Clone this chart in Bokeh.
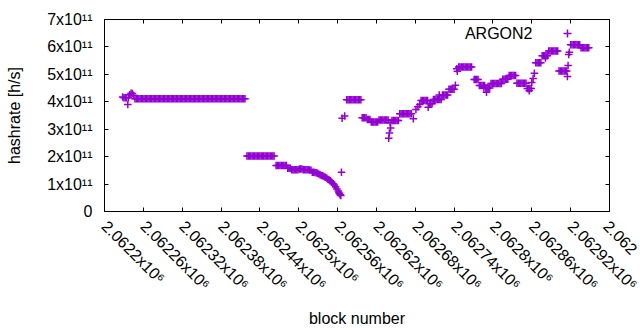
import math
import numpy as np
from bokeh.plotting import figure
from bokeh.models import (Range1d, FixedTicker, LinearAxis, Label, Legend,
                          LegendItem, CustomJSTickFormatter)
from bokeh.core.properties import value
from bokeh.embed import file_html
from bokeh.resources import INLINE

# ---------------- data (hashrate in units of 1e11 h/s) ----------------
blocks = [
    2062228, 2062230, 2062232, 2062234, 2062236, 2062237, 2062239, 2062241, 2062243, 2062245,
    2062247, 2062249, 2062251, 2062253, 2062255, 2062257, 2062259, 2062261, 2062263, 2062265,
    2062267, 2062269, 2062271, 2062273, 2062275, 2062277, 2062279, 2062281, 2062283, 2062285,
    2062287, 2062289, 2062291, 2062293, 2062295, 2062297, 2062299, 2062301, 2062303, 2062305,
    2062307, 2062309, 2062311, 2062313, 2062315, 2062317, 2062319, 2062321, 2062323, 2062325,
    2062327, 2062329, 2062331, 2062333, 2062335, 2062337, 2062339, 2062341, 2062343, 2062345,
    2062347, 2062349, 2062351, 2062353, 2062355, 2062357, 2062359, 2062361, 2062363, 2062365,
    2062367, 2062369, 2062371, 2062373, 2062375, 2062377, 2062379, 2062381, 2062383, 2062385,
    2062387, 2062389, 2062391, 2062393, 2062395, 2062397, 2062399, 2062401, 2062403, 2062405,
    2062407, 2062409, 2062411, 2062413, 2062415, 2062417,
    2062420, 2062422, 2062424, 2062426, 2062428, 2062430, 2062432, 2062434, 2062436, 2062438,
    2062440, 2062442, 2062444, 2062446, 2062448, 2062450, 2062452, 2062454, 2062456, 2062458,
    2062460, 2062462,
    2062465, 2062467, 2062469, 2062471, 2062473, 2062475, 2062477, 2062479, 2062481,
    2062483, 2062485, 2062487,
    2062489, 2062491, 2062493, 2062495, 2062497, 2062499, 2062501, 2062503, 2062505, 2062507,
    2062509, 2062511, 2062513, 2062515, 2062517, 2062519,
    2062521, 2062523, 2062525, 2062527, 2062529, 2062531, 2062533, 2062535, 2062537, 2062539,
    2062541, 2062543, 2062545, 2062547, 2062549, 2062551, 2062553, 2062555, 2062557, 2062559,
    2062561, 2062562, 2062563, 2062564, 2062565, 2062566,
    2062567, 2062571,
    2062574, 2062576, 2062578, 2062580, 2062582, 2062584, 2062586, 2062588, 2062590, 2062592,
    2062594, 2062596,
    2062598, 2062600, 2062602, 2062604, 2062606, 2062608, 2062610,
    2062612, 2062614, 2062616, 2062618, 2062620, 2062622,
    2062624, 2062626, 2062628, 2062630, 2062632, 2062634, 2062636, 2062638,
    2062639, 2062640, 2062641, 2062642,
    2062644, 2062646, 2062648, 2062650, 2062652, 2062654,
    2062656, 2062658, 2062660, 2062662, 2062664, 2062666, 2062668, 2062670, 2062672, 2062674,
    2062677, 2062681, 2062684, 2062687,
    2062689, 2062691, 2062693, 2062695, 2062697, 2062699,
    2062700, 2062702, 2062704, 2062706,
    2062708, 2062710, 2062712, 2062714, 2062716, 2062718, 2062720, 2062717,
    2062722, 2062724, 2062726, 2062728, 2062730,
    2062732, 2062734, 2062736, 2062738, 2062740, 2062742, 2062744, 2062745,
    2062747, 2062749, 2062751, 2062753, 2062755, 2062757, 2062759, 2062761, 2062763, 2062765,
    2062767,
    2062771, 2062773, 2062775, 2062777,
    2062779, 2062781, 2062783, 2062785, 2062787, 2062786, 2062790,
    2062789, 2062791, 2062793, 2062795,
    2062797, 2062799, 2062801, 2062803, 2062805, 2062807, 2062809, 2062811, 2062813,
    2062815, 2062817, 2062819, 2062821, 2062823,
    2062825, 2062827, 2062829, 2062831, 2062833, 2062835,
    2062837, 2062839, 2062841, 2062843, 2062845, 2062847, 2062849, 2062851,
    2062853, 2062855, 2062857, 2062859, 2062856,
    2062860, 2062862, 2062864,
    2062866, 2062868, 2062870, 2062872, 2062874,
    2062876, 2062878, 2062880, 2062882, 2062884, 2062881,
    2062886, 2062888, 2062890, 2062892, 2062894, 2062896, 2062898, 2062900,
    2062902, 2062904, 2062906, 2062908, 2062910, 2062912, 2062914,
    2062915, 2062916, 2062917, 2062918,
    2062920, 2062922, 2062924, 2062926, 2062928, 2062930, 2062932, 2062934,
    2062936, 2062938, 2062940, 2062942, 2062944, 2062946, 2062948,
]

hashrate_e11 = [
    4.17, 4.15, 4.15, 4.15, 3.90, 4.15, 4.26, 4.31, 4.30, 4.24,
    4.11, 4.11, 4.11, 4.11, 4.11, 4.11, 4.11, 4.11, 4.11, 4.11,
    4.11, 4.11, 4.11, 4.11, 4.11, 4.11, 4.11, 4.11, 4.11, 4.11,
    4.11, 4.11, 4.11, 4.11, 4.11, 4.11, 4.11, 4.11, 4.11, 4.11,
    4.11, 4.11, 4.11, 4.11, 4.11, 4.11, 4.11, 4.11, 4.11, 4.11,
    4.11, 4.11, 4.11, 4.11, 4.11, 4.11, 4.11, 4.11, 4.11, 4.11,
    4.11, 4.11, 4.11, 4.11, 4.11, 4.11, 4.11, 4.11, 4.11, 4.11,
    4.11, 4.11, 4.11, 4.11, 4.11, 4.11, 4.11, 4.11, 4.11, 4.11,
    4.11, 4.11, 4.11, 4.11, 4.11, 4.11, 4.11, 4.11, 4.11, 4.11,
    4.11, 4.11, 4.11, 4.11, 4.11, 4.11,
    2.02, 2.02, 2.02, 2.02, 2.02, 2.02, 2.02, 2.02, 2.02, 2.02,
    2.02, 2.02, 2.02, 2.02, 2.02, 2.02, 2.02, 2.02, 2.02, 2.02,
    2.02, 2.02,
    1.68, 1.68, 1.68, 1.68, 1.68, 1.68, 1.68, 1.68, 1.68,
    1.58, 1.58, 1.58,
    1.52, 1.52, 1.52, 1.52, 1.52, 1.52, 1.55, 1.55, 1.55, 1.52,
    1.52, 1.52, 1.52, 1.52, 1.51, 1.50,
    1.43, 1.43, 1.42, 1.41, 1.39, 1.37, 1.34, 1.31, 1.30, 1.28,
    1.25, 1.22, 1.18, 1.15, 1.12, 1.07, 1.01, 0.97, 0.90, 0.82,
    0.75, 0.69, 0.65, 0.61, 0.58, 1.43,
    3.40, 3.48,
    4.07, 4.07, 4.07, 4.07, 4.07, 4.07, 4.07, 4.07, 4.07, 4.07,
    4.07, 4.07,
    3.42, 3.42, 3.42, 3.42, 3.35, 3.35, 3.35,
    3.26, 3.26, 3.26, 3.26, 3.26, 3.26,
    3.34, 3.34, 3.34, 3.34, 3.34, 3.34, 3.34, 3.34,
    2.67, 2.86, 3.24, 3.04,
    3.32, 3.32, 3.32, 3.32, 3.32, 3.32,
    3.56, 3.56, 3.56, 3.56, 3.56, 3.56, 3.56, 3.56, 3.56, 3.56,
    3.38, 3.72, 3.82, 3.90,
    4.05, 4.05, 4.05, 4.05, 4.05, 4.05,
    3.80, 3.93, 3.93, 3.93,
    4.08, 4.08, 4.08, 4.08, 4.08, 4.08, 4.08, 4.25,
    4.25, 4.25, 4.25, 4.25, 4.25,
    4.46, 4.46, 4.46, 4.46, 4.46, 4.60, 5.20, 5.11,
    5.27, 5.27, 5.27, 5.27, 5.27, 5.27, 5.27, 5.27, 5.27, 5.27,
    5.27,
    4.81, 4.81, 4.81, 4.81,
    4.59, 4.59, 4.59, 4.59, 4.59, 4.50, 4.35,
    4.50, 4.50, 4.50, 4.50,
    4.67, 4.67, 4.67, 4.67, 4.67, 4.67, 4.67, 4.67, 4.67,
    4.82, 4.82, 4.82, 4.82, 4.82,
    4.96, 4.96, 4.96, 4.96, 4.96, 4.96,
    4.68, 4.68, 4.68, 4.68, 4.68, 4.68, 4.68, 4.68,
    4.48, 4.48, 4.48, 4.48, 4.40,
    4.70, 4.85, 5.04,
    5.42, 5.42, 5.42, 5.42, 5.42,
    5.68, 5.68, 5.68, 5.68, 5.68, 5.60,
    5.85, 5.85, 5.85, 5.85, 5.85, 5.85, 5.85, 5.85,
    5.12, 5.12, 5.12, 5.12, 5.12, 5.12, 5.12,
    4.92, 5.32, 5.72, 5.81,
    6.08, 6.08, 6.08, 6.08, 6.08, 6.08, 6.08, 6.08,
    5.97, 5.97, 5.97, 5.97, 5.97, 5.97, 5.97,
]

x_ticks = [2062200, 2062260, 2062320, 2062380, 2062440, 2062500, 2062560,
           2062620, 2062680, 2062740, 2062800, 2062860, 2062920, 2062980]
# the last label runs off the right edge of the picture in the reference;
# only its visible start is kept so it is not pushed over its neighbour
x_tick_labels = ["2.0622x10⁶", "2.06226x10⁶", "2.06232x10⁶", "2.06238x10⁶",
                 "2.06244x10⁶", "2.0625x10⁶", "2.06256x10⁶", "2.06262x10⁶",
                 "2.06268x10⁶", "2.06274x10⁶", "2.0628x10⁶", "2.06286x10⁶",
                 "2.06292x10⁶", "2.062"]

y_ticks = [0, 1e11, 2e11, 3e11, 4e11, 5e11, 6e11, 7e11]
y_tick_labels = ["0", "1x10¹¹", "2x10¹¹", "3x10¹¹", "4x10¹¹", "5x10¹¹",
                 "6x10¹¹", "7x10¹¹"]

series_name = "ARGON2"
x_label = "block number"
y_label = "hashrate [h/s]"

assert len(blocks) == len(hashrate_e11)

# ---------------- figure ----------------
FONT = "Liberation Sans"
COLOR = "#9400D3"
XMIN, XMAX = 2062200, 2062980
YMIN, YMAX = 0, 7e11

p = figure(width=640, height=330, output_backend="svg", toolbar_location=None,
           x_range=Range1d(XMIN, XMAX), y_range=Range1d(YMIN, YMAX),
           min_border_left=104, min_border_right=31, min_border_top=19,
           min_border_bottom=119)
p.grid.visible = False
p.outline_line_color = "black"
p.background_fill_color = "white"
p.border_fill_color = "white"


def style_axis(ax):
    ax.major_tick_in = 4
    ax.major_tick_out = 0
    ax.minor_tick_line_color = None
    ax.axis_line_color = "black"
    ax.major_tick_line_color = "black"


# left / bottom axes with labels
p.xaxis.ticker = FixedTicker(ticks=x_ticks)
p.yaxis.ticker = FixedTicker(ticks=y_ticks)
p.xaxis.major_label_overrides = {t: s for t, s in zip(x_ticks, x_tick_labels)}
p.yaxis.major_label_overrides = {t: s for t, s in zip(y_ticks, y_tick_labels)}
for ax in (p.xaxis[0], p.yaxis[0]):
    style_axis(ax)
    ax.major_label_text_font = FONT
    ax.major_label_text_font_size = "16px"
    ax.major_label_text_color = "black"
    ax.major_label_standoff = 12
    ax.axis_label_text_font = FONT
    ax.axis_label_text_font_size = "16px"
    ax.axis_label_text_font_style = "normal"
    ax.axis_label_text_color = "black"
p.xaxis.major_label_orientation = -math.pi / 4
p.xaxis.axis_label = x_label
p.yaxis.axis_label = y_label
p.xaxis.axis_label_standoff = 8
p.yaxis.axis_label_standoff = 21

# mirrored tick marks (top / right), no labels
blank = CustomJSTickFormatter(code="return ''")
ax_top = LinearAxis(ticker=FixedTicker(ticks=x_ticks), formatter=blank,
                    major_label_standoff=0, major_label_text_font_size="1px")
style_axis(ax_top)
p.add_layout(ax_top, "above")
ax_right = LinearAxis(ticker=FixedTicker(ticks=y_ticks), formatter=blank,
                      major_label_standoff=0, major_label_text_font_size="1px")
style_axis(ax_right)
p.add_layout(ax_right, "right")

# ---------------- data marks ----------------
xs = np.array(blocks, dtype=float)
ys = np.array(hashrate_e11) * 1e11
r = p.scatter(xs, ys, marker="cross", size=7.5, line_color=COLOR,
              line_width=1.5, fill_color=None)

# key (gnuplot style: title text, then the point sample to its right)
leg = Legend(items=[LegendItem(label=value(" "), renderers=[r])],
             location=(453, 168.5), glyph_width=20, glyph_height=20,
             padding=0, margin=0, spacing=0, label_standoff=0,
             label_width=0, label_height=0, label_text_font_size="1px",
             border_line_color=None, background_fill_alpha=0)
p.add_layout(leg)
p.add_layout(Label(x=XMAX, y=YMAX, text=series_name, x_offset=-77, y_offset=-13.5,
                   text_align="right", text_baseline="middle",
                   text_font=FONT, text_font_size="16px", text_color="black"))

open("out.html", "w").write(file_html(p, INLINE))
